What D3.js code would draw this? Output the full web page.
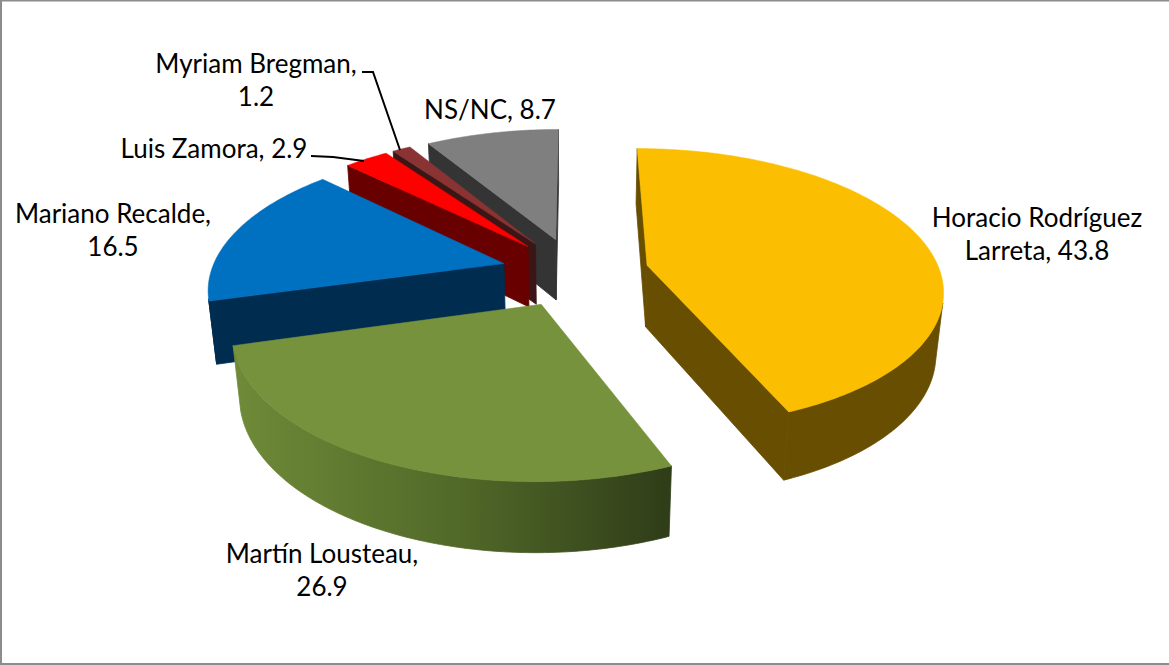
<!DOCTYPE html>
<html>
<head>
<meta charset="utf-8">
<script src="https://cdn.jsdelivr.net/npm/d3@7"></script>
<style>
  html, body { margin: 0; padding: 0; background: #fff; }
  svg { display: block; }
  text { font-family: Lato, "Open Sans", sans-serif; font-size: 26px; fill: #000; text-anchor: middle; }
</style>
</head>
<body>
<div id="chart"></div>
<script>
// data
var names = ["Horacio Rodríguez Larreta", "Martín Lousteau", "Mariano Recalde", "Luis Zamora", "Myriam Bregman", "NS/NC"];
var values = [43.8, 26.9, 16.5, 2.9, 1.2, 8.7];
var labelLines = [["Horacio Rodríguez", "Larreta, 43.8"], ["Martín Lousteau,", "26.9"], ["Mariano Recalde,", "16.5"], ["Luis Zamora, 2.9"], ["Myriam Bregman,", "1.2"], ["NS/NC, 8.7"]];

var topColors = ["#fbbe00", "#76923c", "#0070c0", "#ff0000", "#893333", "#7f7f7f"];
var wallColors = ["#674e00", "#31401a", "#002c4f", "#690000", "#3b1616", "#343434"];

var svgWidth = 1169;
var svgHeight = 665;

// camera and pie shape
var cx = 575, cy = 272;
var radius = 293, explode = 74, depth = 63;
var tilt = 0.469;
var persp = 1835;     // foreshortening toward the back
var perspZ = 3000;    // bottom face shrinks a bit

var svg = d3.select("#chart").append("svg")
  .attr("width", svgWidth)
  .attr("height", svgHeight);

var defs = svg.append("defs");
var greenGrad = defs.append("linearGradient")
  .attr("id", "greenWall")
  .attr("gradientUnits", "userSpaceOnUse")
  .attr("x1", 235).attr("x2", 670).attr("y1", 0).attr("y2", 0);
greenGrad.append("stop").attr("offset", "0").attr("stop-color", "#6f8a38");
greenGrad.append("stop").attr("offset", "0.5").attr("stop-color", "#526a29");
greenGrad.append("stop").attr("offset", "1").attr("stop-color", "#2f3d18");

// frame, the original has no right edge
svg.append("path")
  .attr("d", `M1,${svgHeight - 1}V0.5H${svgWidth}M0,${svgHeight - 1}H${svgWidth}`)
  .attr("fill", "none")
  .attr("stroke", "#8c8c8c")
  .attr("stroke-width", 2);

var pie = d3.pie().sort(null).value(d => d);
var arcs = pie(values);

// pie plane to screen; y grows toward the viewer, z is the drop below the top face
function project(x, y, z) {
  var s = 1 / (1 - y / persp + z / perspZ);
  return [cx + x * s, cy + (tilt * y + z) * s];
}

function rimPoint(d, a, z) {
  var mid = (d.startAngle + d.endAngle) / 2;
  var ox = explode * Math.sin(mid), oy = -explode * Math.cos(mid);
  return project(ox + radius * Math.sin(a), oy - radius * Math.cos(a), z);
}

function apexPoint(d, z) {
  var mid = (d.startAngle + d.endAngle) / 2;
  return project(explode * Math.sin(mid), -explode * Math.cos(mid), z);
}

function angles(d) {
  var n = Math.max(4, Math.ceil((d.endAngle - d.startAngle) * 60));
  return d3.range(n + 1).map(i => d.startAngle + (d.endAngle - d.startAngle) * i / n);
}

var line = d3.line().curve(d3.curveLinearClosed);

// back to front
var order = [5, 4, 3, 2, 0, 1];

order.forEach(function(i) {
  var d = arcs[i];
  var g = svg.append("g");
  var wallFill = i === 1 ? "url(#greenWall)" : wallColors[i];

  // the two cut faces, only if they look at the camera
  var startFace = [apexPoint(d, 0), rimPoint(d, d.startAngle, 0), rimPoint(d, d.startAngle, depth), apexPoint(d, depth)];
  var endFace = [apexPoint(d, 0), apexPoint(d, depth), rimPoint(d, d.endAngle, depth), rimPoint(d, d.endAngle, 0)];
  [startFace, endFace].forEach(function(face) {
    if (d3.polygonArea(face) > 0) {
      g.append("path").attr("d", line(face)).attr("fill", wallColors[i]).attr("stroke", wallColors[i]).attr("stroke-width", 0.8);
    }
  });

  // outer wall, only the part turned to the camera
  var vis = angles(d).filter(function(a) {
    var e = 0.005;
    return d3.polygonArea([rimPoint(d, a - e, 0), rimPoint(d, a + e, 0), rimPoint(d, a + e, depth), rimPoint(d, a - e, depth)]) > 0;
  });
  if (vis.length > 1) {
    var wall = vis.map(a => rimPoint(d, a, 0)).concat(vis.slice().reverse().map(a => rimPoint(d, a, depth)));
    g.append("path").attr("d", line(wall)).attr("fill", wallFill).attr("stroke", wallFill).attr("stroke-width", 0.8);
  }

  // top face
  var top = [apexPoint(d, 0)].concat(angles(d).map(a => rimPoint(d, a, 0)));
  g.append("path").attr("d", line(top)).attr("fill", topColors[i]).attr("stroke", topColors[i]).attr("stroke-width", 0.5);
});

// labels
var labelX = [1037, 322, 113, 214, 256, 490];
var labelY = [227, 563, 223, 158, 73, 119];
var lineGap = 33;

labelLines.forEach(function(lines, i) {
  var t = svg.append("text").attr("x", labelX[i]).attr("y", labelY[i]);
  lines.forEach(function(s, j) {
    t.append("tspan").attr("x", labelX[i]).attr("dy", j ? lineGap : 0).text(s);
  });
});

// leader lines for the two thin slices
var leaders = [[[311, 156], [333, 157], [364, 161]], [[362, 72], [373, 72], [400, 150]]];
leaders.forEach(function(p) {
  svg.append("path").attr("d", d3.line()(p)).attr("fill", "none").attr("stroke", "#000").attr("stroke-width", 2);
});
</script>
</body>
</html>
